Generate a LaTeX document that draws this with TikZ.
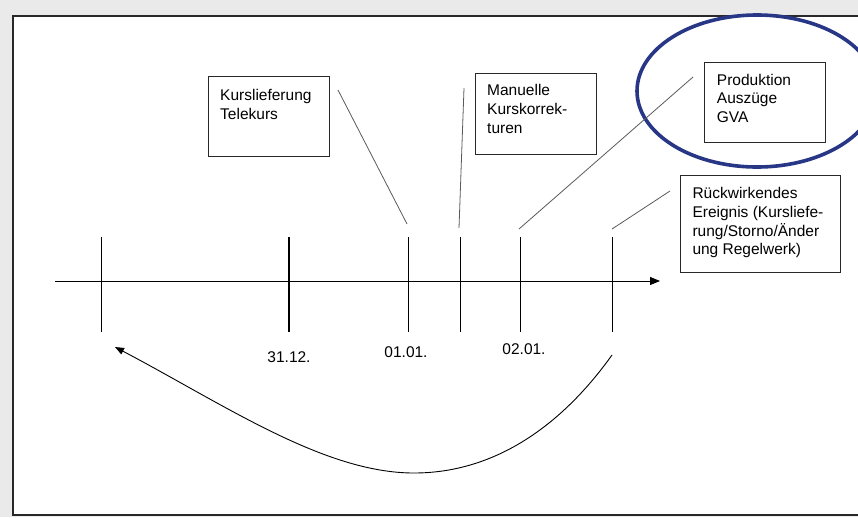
\documentclass[tikz,border=0pt]{standalone}
\usepackage{fontspec}
\setmainfont{Liberation Sans}
\usetikzlibrary{arrows.meta,shapes.geometric}
\definecolor{bggray}{RGB}{234,234,234}
\definecolor{framegray}{RGB}{40,40,40}
\definecolor{navy}{RGB}{40,54,134}
\definecolor{linegray}{RGB}{90,90,90}
\tikzset{
  box/.style={draw=framegray, line width=1.1pt, fill=white, inner sep=0pt, anchor=north west},
  txt/.style={inner sep=0pt, anchor=north west, align=left, font=\fontsize{15.5}{18.8}\selectfont},
  datelabel/.style={inner sep=0pt, font=\fontsize{15.5}{18}\selectfont},
  tick/.style={line width=0.9pt, black},
  thicktick/.style={line width=2.8pt, black},
  pointer/.style={line width=0.8pt, linegray},
}
\begin{document}
\begin{tikzpicture}[x=1pt,y=-1pt]
\useasboundingbox (0,0) rectangle (858,517);
\fill[bggray] (0,0) rectangle (858,517);
\draw[framegray, line width=1.3pt, fill=white] (13,16) rectangle (875,515);

% axis
\coordinate (axL) at (55,281);
\coordinate (axR) at (660,281);
\draw[line width=0.9pt, -{Triangle[length=10pt,width=8pt]}] (axL) -- (axR);

% ticks
\foreach \n/\x in {a/101,c/408,d/460,e/520,f/612}{
  \coordinate (\n top) at (\x,237);
  \coordinate (\n bot) at (\x,332);
  \draw[tick] (\n top) -- (\n bot);
}
\coordinate (btop) at (289,237);
\coordinate (bbot) at (289,332);
\draw[thicktick] (btop) -- (bbot);

% date labels
\node[datelabel] (d3112) at (289,357.5) {31.12.};
\node[datelabel] (d0101) at (406,352) {01.01.};
\node[datelabel] (d0201) at (524,349) {02.01.};

% boxes
\node[box, minimum width=121pt, minimum height=80pt] (kt) at (208,76) {};
\node[txt] (ktt) at (220,89.5) {Kurslieferung\\Telekurs};

\node[box, minimum width=121pt, minimum height=81pt] (mk) at (475,73) {};
\node[txt] (mkt) at (487,84.4) {Manuelle\\Kurskorrek-\\turen};

\node[box, minimum width=121pt, minimum height=80pt] (pa) at (704,62) {};
\node[txt] (pat) at (716.7,73.7) {Produktion\\Auszüge\\GVA};

\node[box, minimum width=160pt, minimum height=97pt] (re) at (680,175) {};
\node[txt] (ret) at (692.3,187) {Rückwirkendes\\Ereignis (Kursliefe-\\rung/Storno/Änder\\ung Regelwerk)};

% ellipse
\node[draw=navy, line width=3.6pt, ellipse, minimum width=240pt, minimum height=152pt, inner sep=0pt] (ell) at (757,91) {};

% pointer lines
\coordinate (p1a) at (338,90);  \coordinate (p1b) at (407,224);
\coordinate (p2a) at (464,88);  \coordinate (p2b) at (459,228);
\coordinate (p3a) at (693,77);  \coordinate (p3b) at (519,229);
\coordinate (p4a) at (670,191); \coordinate (p4b) at (612,229);
\draw[pointer] (p1a) -- (p1b);
\draw[pointer] (p2a) -- (p2b);
\draw[pointer] (p3a) -- (p3b);
\draw[pointer] (p4a) -- (p4b);

% backward curve
\coordinate (cs) at (612,355);
\coordinate (cm) at (414,473);
\coordinate (ce) at (115,347);
\draw[line width=0.9pt, -{Triangle[length=9pt,width=7pt]}] (cs) .. controls (557,432) and (489,473) .. (cm) .. controls (324,473) and (225,405) .. (ce);
\end{tikzpicture}
\end{document}
